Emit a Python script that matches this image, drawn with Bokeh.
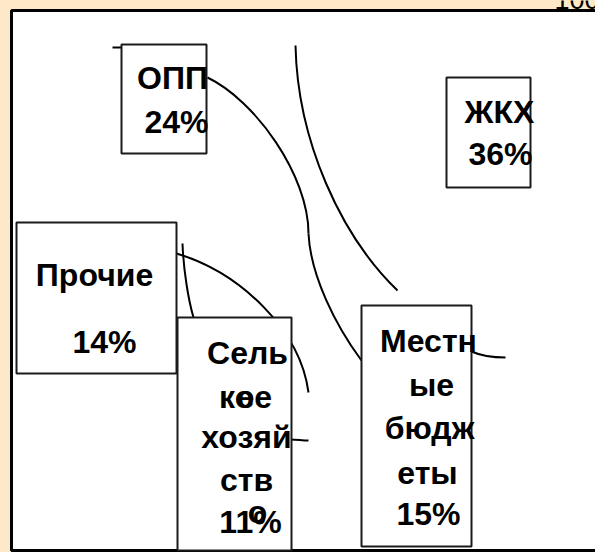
from bokeh.plotting import figure
from bokeh.models import Range1d, ColumnDataSource
from bokeh.core.properties import value
from bokeh.embed import file_html
from bokeh.resources import INLINE

# ---- data ----
categories = ["ЖКХ", "ОПП", "Местные бюджеты", "Прочие", "Сельское хозяйство"]
shares = [36, 24, 15, 14, 11]
# label lines as wrapped in the picture (percent appended from shares)
label_lines = [
    ["ЖКХ"],
    ["ОПП"],
    ["Местн", "ые", "бюдж", "еты"],
    ["Прочие"],
    ["Сель", "кое", "хозяй", "ств"],
]
# stray overlapping glyphs of the wrapped "Сельское хозяйство" label
overlap_chars = ["е", "о"]
total_text = "100"

# ---- layout (pixel frame, y downwards) ----
BG = "#FDE9C8"
DY = -11  # baseline correction of the svg text
box_l = [446, 121, 361, 16, 177]
box_r = [530, 206, 471, 176, 291]
box_t = [77, 44, 305, 222, 317]
box_b = [187, 153, 546, 373, 550]
line_base = [
    [122, 164],
    [88, 132],
    [351, 395, 438, 483, 524],
    [285, 352],
    [363, 407, 447, 490, 532],
]
line_cx = [
    [499, 500],
    [172, 176],
    [428, 431, 429, 427, 428],
    [94, 104],
    [247, 245, 246, 246, 250],
]
overlap_x = [245, 257]
overlap_y = [407, 522]

W, H = 595, 552
p = figure(width=W, height=H, x_range=Range1d(0, W), y_range=Range1d(H, 0),
           output_backend="svg", toolbar_location=None, min_border=0)
p.axis.visible = False
p.grid.visible = False
p.outline_line_color = None
p.background_fill_color = BG
p.border_fill_color = BG

# white panel
p.quad(left=[11], right=[640], top=[10], bottom=[550], fill_color="white",
       line_color="black", line_width=3)

# pie outline fragments (drawn below label boxes)
curves = [
    (295, 45, 297, 140, 340, 235, 397, 290),
    (207, 77, 255, 100, 308, 175, 308, 233),
    (308, 233, 310, 275, 335, 325, 361, 360),
    (176, 253, 240, 272, 300, 330, 308, 392),
    (182, 243, 183, 270, 188, 300, 193, 317),
    (290, 439, 296, 439, 302, 440, 308, 440),
    (471, 351, 482, 356, 494, 357, 505, 357),
    (112, 47, 115, 47, 118, 47, 121, 47),
]
cs = ColumnDataSource(dict(
    x0=[c[0] for c in curves], y0=[c[1] for c in curves],
    cx0=[c[2] for c in curves], cy0=[c[3] for c in curves],
    cx1=[c[4] for c in curves], cy1=[c[5] for c in curves],
    x1=[c[6] for c in curves], y1=[c[7] for c in curves]))
p.bezier(x0="x0", y0="y0", x1="x1", y1="y1", cx0="cx0", cy0="cy0",
         cx1="cx1", cy1="cy1", source=cs, line_color="black", line_width=2)

# label boxes
p.quad(left=box_l, right=box_r, top=box_t, bottom=box_b, fill_color="white",
       line_color="#1a1a1a", line_width=2)

# label texts
tx, ty, tt = [], [], []
for i, cat in enumerate(categories):
    lines = label_lines[i] + [f"{shares[i]}%"]
    for j, s in enumerate(lines):
        tx.append(line_cx[i][j])
        ty.append(line_base[i][j] + DY)
        tt.append(s)
for k, ch in enumerate(overlap_chars):
    tx.append(overlap_x[k])
    ty.append(overlap_y[k] + DY)
    tt.append(ch)
p.text(x=tx, y=ty, text=tt, text_font=value("Liberation Sans"),
       text_font_style="bold", text_font_size=value("32px"),
       text_align="center", text_baseline="alphabetic", text_color="black")

# total at top right (cut by the window edge)
p.text(x=[554], y=[-1], text=[total_text], text_font=value("Liberation Sans"),
       text_font_size=value("27px"), text_align="left",
       text_baseline="alphabetic", text_color="black")

html = file_html(p, INLINE)
html = html.replace("</head>",
                    "<style>html,body{margin:0;padding:0;background:%s;overflow:hidden;}</style></head>" % BG, 1)
open("out.html", "w").write(html)
